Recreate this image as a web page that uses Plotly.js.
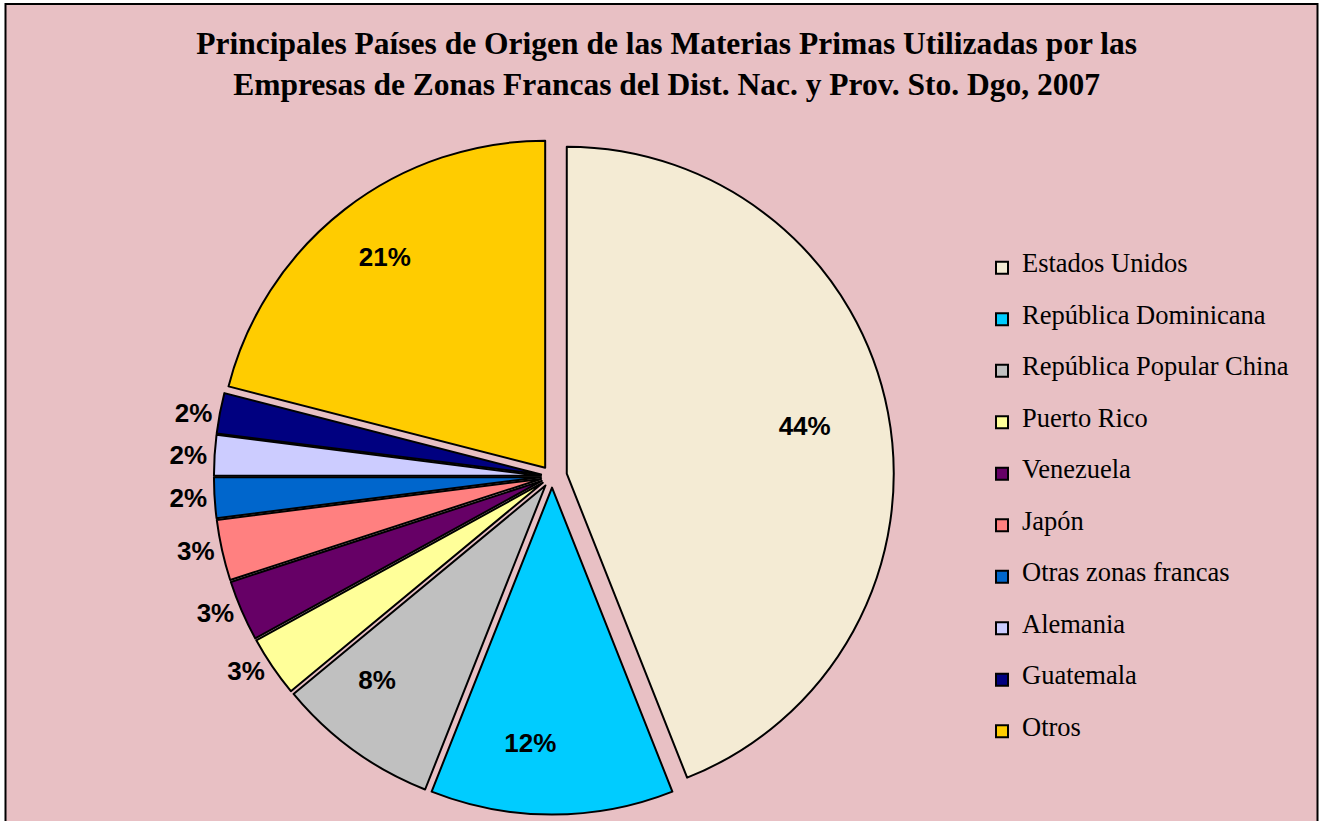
<!DOCTYPE html>
<html>
<head>
<meta charset="utf-8">
<script src="https://cdn.plot.ly/plotly-3.0.1.min.js"></script>
<style>
html,body{margin:0;padding:0;background:#fff;}
#chart{width:1320px;height:821px;}
</style>
</head>
<body>
<div id="chart"></div>
<script>
const countries = ["Estados Unidos","República Dominicana","República Popular China","Puerto Rico","Venezuela","Japón","Otras zonas francas","Alemania","Guatemala","Otros"];
const shares = [44,12,8,3,3,3,2,2,2,21];
const sliceColors = ["#f4ebd4","#00ccff","#c0c0c0","#ffff99","#660066","#ff8080","#0066cc","#ccccff","#000080","#ffcc00"];
const labelPositions = ["inside","inside","inside","outside","outside","outside","outside","outside","outside","inside"];
const pulls = [0.046,0.034,0.034,0.034,0.034,0.034,0.034,0.034,0.034,0.034];

// label padding (non-breaking spaces before/after, blank lines above/below) to place the percent text like the original
const padBefore = [21,0,0,0,0,0,0,0,0,0];
const padAfter  = [0,6,4,0,0,0,0,0,0,10];
const linesAbove = [0,1,0,0,0,0,0,0,0,0];
const linesBelow = [1,0,1,0,0,0,0,0,0,3];

const NB = "\u00a0";
const templates = shares.map((_, i) =>
  (NB + "<br>").repeat(linesAbove[i]) +
  NB.repeat(padBefore[i]) + "%{percent:.0%}" + NB.repeat(padAfter[i]) +
  ("<br>" + NB).repeat(linesBelow[i])
);

const W = 1320, H = 821;
const pctFont = {family: "Arial, 'Liberation Sans', sans-serif", size: 26, color: "#000", weight: "bold"};
const trace = {
  type: "pie",
  labels: countries.map(c => "<sup><sub><span style=\"font-size:26.5px\">" + c + "</span></sub></sup>"),
  values: shares,
  sort: false,
  direction: "clockwise",
  rotation: 0,
  pull: pulls,
  marker: {colors: sliceColors, line: {color: "#000", width: 2}},
  texttemplate: templates,
  textposition: labelPositions,
  insidetextorientation: "horizontal",
  textfont: pctFont,
  insidetextfont: pctFont,
  outsidetextfont: pctFont,
  domain: {x: [210/W, 894/W], y: [2.5/H, (H-134.5)/H]},
  hoverinfo: "percent"
};

const layout = {
  width: W, height: H,
  margin: {l: 0, r: 0, t: 0, b: 0},
  paper_bgcolor: "#ffffff",
  title: {
    text: "Principales Países de Origen de las Materias Primas Utilizadas por las<br>Empresas de Zonas Francas del Dist. Nac. y Prov. Sto. Dgo, 2007",
    font: {family: "'Times New Roman', 'Liberation Serif', serif", size: 31.5, color: "#000", weight: "bold"},
    x: 0.505, xanchor: "center",
    y: 1 - 54/H, yanchor: "middle"
  },
  showlegend: true,
  legend: {
    x: 982/W, xanchor: "left",
    y: 1 - 237/H, yanchor: "top",
    bgcolor: "rgba(0,0,0,0)",
    font: {family: "'Times New Roman', 'Liberation Serif', serif", size: 37.3, color: "#000"},
    traceorder: "normal"
  },
  shapes: [{
    type: "rect", xref: "paper", yref: "paper", layer: "below",
    x0: 5.5/W, x1: 1317.5/W, y0: -0.02, y1: 1 - 4/H,
    fillcolor: "#e8c0c4", line: {color: "#000", width: 2}
  }]
};

Plotly.newPlot("chart", [trace], layout, {displayModeBar: false, staticPlot: true});
</script>
</body>
</html>
